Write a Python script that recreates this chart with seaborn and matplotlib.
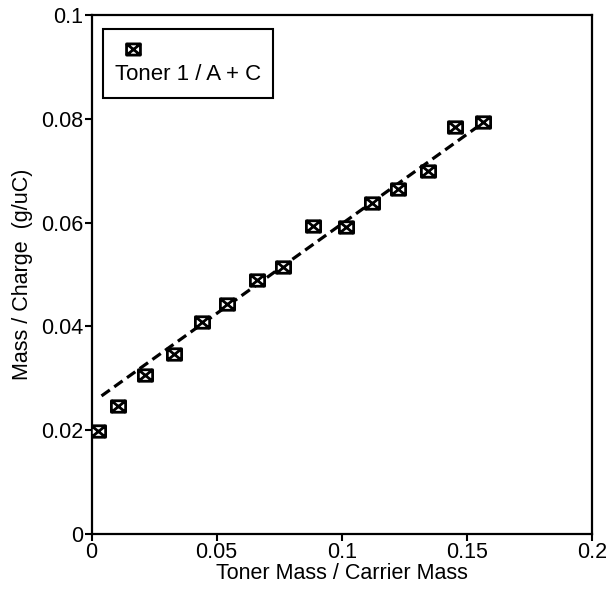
import numpy as np
import pandas as pd
import matplotlib
matplotlib.use("Agg")
import matplotlib.pyplot as plt
import seaborn as sb
from matplotlib.path import Path
from matplotlib.lines import Line2D

# valores
toner_ratio = [0.0027, 0.0107, 0.0214, 0.0331, 0.0440, 0.0543, 0.0660, 0.0765,
               0.0886, 0.1017, 0.1122, 0.1224, 0.1344, 0.1453, 0.1564]
mass_charge = [0.0198, 0.0247, 0.0307, 0.0347, 0.0408, 0.0444, 0.0489, 0.0515,
               0.0594, 0.0591, 0.0637, 0.0665, 0.0699, 0.0785, 0.0794]
# reta tracejada (extremos)
fit_x = [0.004, 0.1555]
fit_y = [0.0266, 0.0789]

x_ticks = [0, 0.05, 0.1, 0.15, 0.2]
x_tick_labels = ["0", "0.05", "0.1", "0.15", "0.2"]
y_ticks = [0, 0.02, 0.04, 0.06, 0.08, 0.1]
y_tick_labels = ["0", "0.02", "0.04", "0.06", "0.08", "0.1"]
series_label = "Toner 1 / A + C"

sb.set_style("white")
plt.rcParams['font.family'] = ['Liberation Sans', 'DejaVu Sans']
plt.rcParams['text.color'] = 'black'
plt.rcParams['axes.labelcolor'] = 'black'

# marcador: quadrado com X dentro
w, h = 0.62, 0.5
box_x = Path(
    [(-w, -h), (w, -h), (w, h), (-w, h), (-w, -h),
     (-w, -h), (w, h), (-w, h), (w, -h)],
    [Path.MOVETO, Path.LINETO, Path.LINETO, Path.LINETO, Path.CLOSEPOLY,
     Path.MOVETO, Path.LINETO, Path.MOVETO, Path.LINETO])

df = pd.DataFrame({"ratio": toner_ratio, "mc": mass_charge})

fig = plt.figure(figsize=(6.08, 5.92), dpi=100)
ax = fig.add_axes([0.1505, 0.098, 0.8232, 0.8767])

sb.lineplot(x=fit_x, y=fit_y, color="black", linewidth=2.3, ax=ax)
ax.lines[-1].set_dashes([3.2, 1.7])
sb.scatterplot(data=df, x="ratio", y="mc", marker=box_x, s=105,
               facecolor="white", edgecolor="black", linewidth=2.0, ax=ax, zorder=3)

ax.set_xlim(0, 0.2)
ax.set_ylim(0, 0.1)
ax.set_xticks(x_ticks)
ax.set_xticklabels(x_tick_labels)
ax.set_yticks(y_ticks)
ax.set_yticklabels(y_tick_labels)
ax.tick_params(axis="both", direction="out", length=5, width=1.5, labelsize=15.5,
               pad=1, colors="black", bottom=True, left=True)
for sp in ax.spines.values():
    sp.set_linewidth(1.6)
    sp.set_color("black")

ax.set_xlabel("Toner Mass / Carrier Mass", fontsize=15.5, labelpad=0, color="black")
ax.set_ylabel("Mass / Charge  (g/uC)", fontsize=15.5, labelpad=6, color="black")

# legenda: marcador acima do texto
h_mark = Line2D([], [], marker=box_x, markersize=10, markerfacecolor="white",
                markeredgecolor="black", markeredgewidth=2.0, linestyle="none")
h_empty = Line2D([], [], linestyle="none")
leg = ax.legend([h_mark, h_empty], ["", series_label], loc="upper left",
                bbox_to_anchor=(0.022, 0.973), borderaxespad=0, fontsize=16,
                handlelength=1.6, handletextpad=-1.6, labelspacing=0.1,
                borderpad=0.55, fancybox=False, framealpha=1)
leg.get_frame().set_edgecolor("black")
leg.get_frame().set_linewidth(1.5)

fig.savefig("out.png", dpi=100)
